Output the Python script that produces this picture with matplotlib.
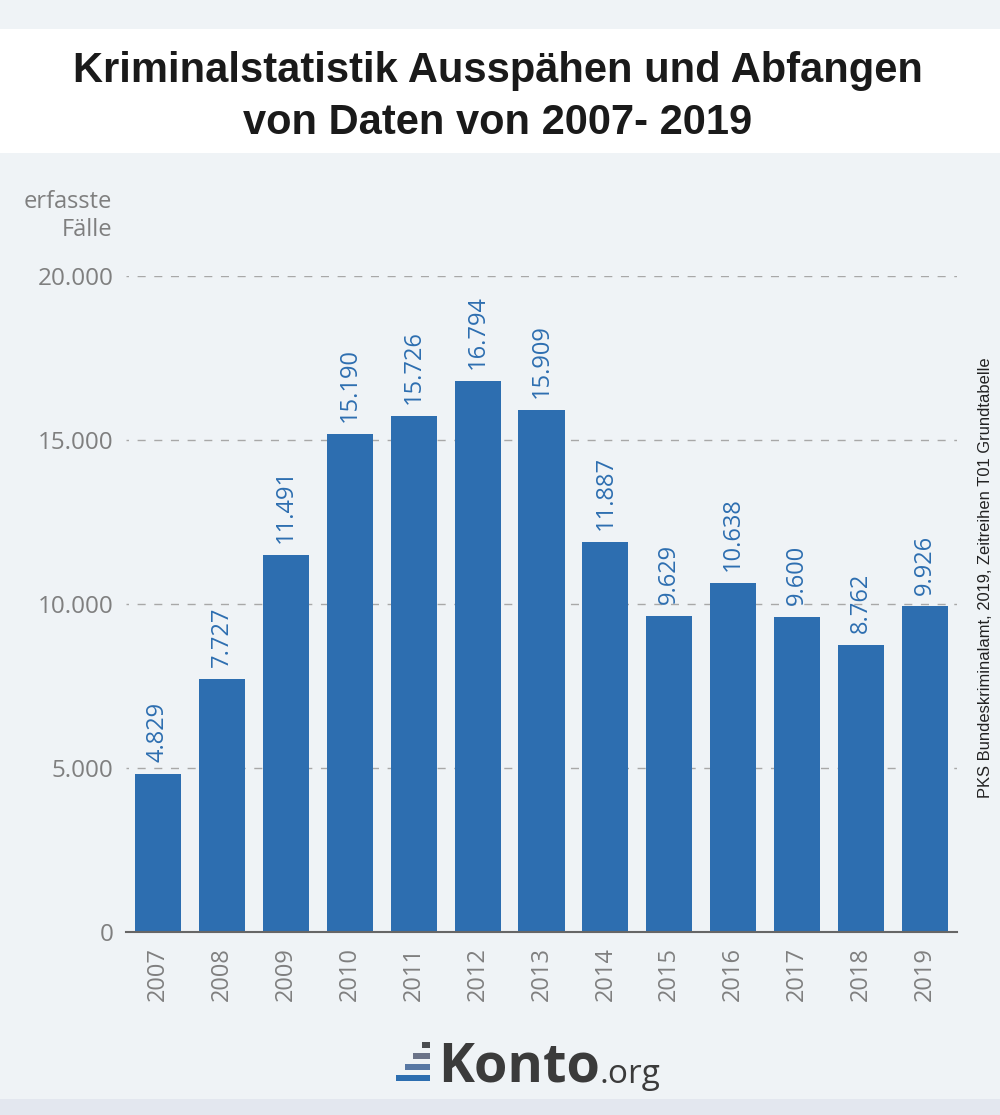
import matplotlib
matplotlib.use("Agg")
import matplotlib.pyplot as plt
from matplotlib.patches import Rectangle

years = ["2007","2008","2009","2010","2011","2012","2013","2014","2015","2016","2017","2018","2019"]
cases = [4829,7727,11491,15190,15726,16794,15909,11887,9629,10638,9600,8762,9926]
labels = ["4.829","7.727","11.491","15.190","15.726","16.794","15.909","11.887","9.629","10.638","9.600","8.762","9.926"]
yticks = [0,5000,10000,15000,20000]
yticklabels = ["0","5.000","10.000","15.000","20.000"]
title = "Kriminalstatistik Ausspähen und Abfangen\nvon Daten von 2007- 2019"
source = "PKS Bundeskriminalamt, 2019, Zeitreihen T01 Grundtabelle"

BG = "#eff3f6"; BLUE = "#2d6eb0"; GREY = "#7f7f7f"; W, H = 1000, 1115
fig = plt.figure(figsize=(10, 11.15), dpi=100, facecolor=BG)

# page furniture in pixel coordinates
deco = fig.add_axes([0, 0, 1, 1], zorder=0)
deco.set_xlim(0, W); deco.set_ylim(H, 0); deco.axis("off")
deco.add_patch(Rectangle((0, 29), W, 124, fc="white", ec="none"))
deco.add_patch(Rectangle((0, 1099), W, 16, fc="#e3e7ef", ec="none"))
deco.text(498, 97, title, ha="center", va="center", family="Liberation Sans", weight="bold",
          fontsize=30, color="#1a1a1a", linespacing=1.37)
deco.text(112, 216, "erfasste\nFälle", ha="right", va="center", family="Open Sans",
          fontsize=17, color=GREY, linespacing=1.2)
deco.text(986, 578, source, rotation=90, ha="center", va="center", family="Liberation Sans",
          fontsize=11.9, color="#222222")
for x0, x1, y0, y1, c in [(396,430,1075,1081,"#2d6eb0"),(405,430,1064,1070,"#5878a4"),
                          (413,430,1053,1059,"#6b7388"),(422,430,1042,1048,"#4a4c50")]:
    deco.add_patch(Rectangle((x0, y0), x1-x0, y1-y0, fc=c, ec="none"))
deco.text(438, 1081.5, "Konto", ha="left", va="baseline", family="Open Sans", weight="bold",
          fontsize=39, color="#3b3b3b")
deco.text(600, 1083, ".org", ha="left", va="baseline", family="Open Sans",
          fontsize=24, color="#3b3b3b")

# chart
ax = fig.add_axes([126/W, 1-932/H, 831/W, 656/H], zorder=1)
ax.patch.set_alpha(0)
xs = list(range(len(years)))
ax.bar(xs, cases, width=0.72, color=BLUE, zorder=2)
ax.set_xlim(-0.5, 12.5); ax.set_ylim(0, 20000)
ax.set_xticks(xs, years, rotation=90, family="Open Sans", fontsize=17, color=GREY)
ax.set_yticks(yticks, yticklabels, family="Open Sans", fontsize=17.5, color=GREY)
ax.tick_params(axis="both", length=0)
ax.tick_params(axis="x", pad=11)
ax.tick_params(axis="y", pad=9)
for v in yticks[1:]:
    ax.axhline(v, color="#a8a8a8", lw=1, linestyle=(4, (5.8, 6.2)), zorder=1)
for s in ["top", "left", "right"]:
    ax.spines[s].set_visible(False)
ax.spines["bottom"].set_color("#666666"); ax.spines["bottom"].set_linewidth(1.5)
for x, v, t in zip(xs, cases, labels):
    ax.annotate(t, (x, v), xytext=(0, 8.5), textcoords="offset points", rotation=90, ha="center",
                va="bottom", family="Open Sans", fontsize=17, color=BLUE)

fig.savefig("out.png", dpi=100, facecolor=BG)
